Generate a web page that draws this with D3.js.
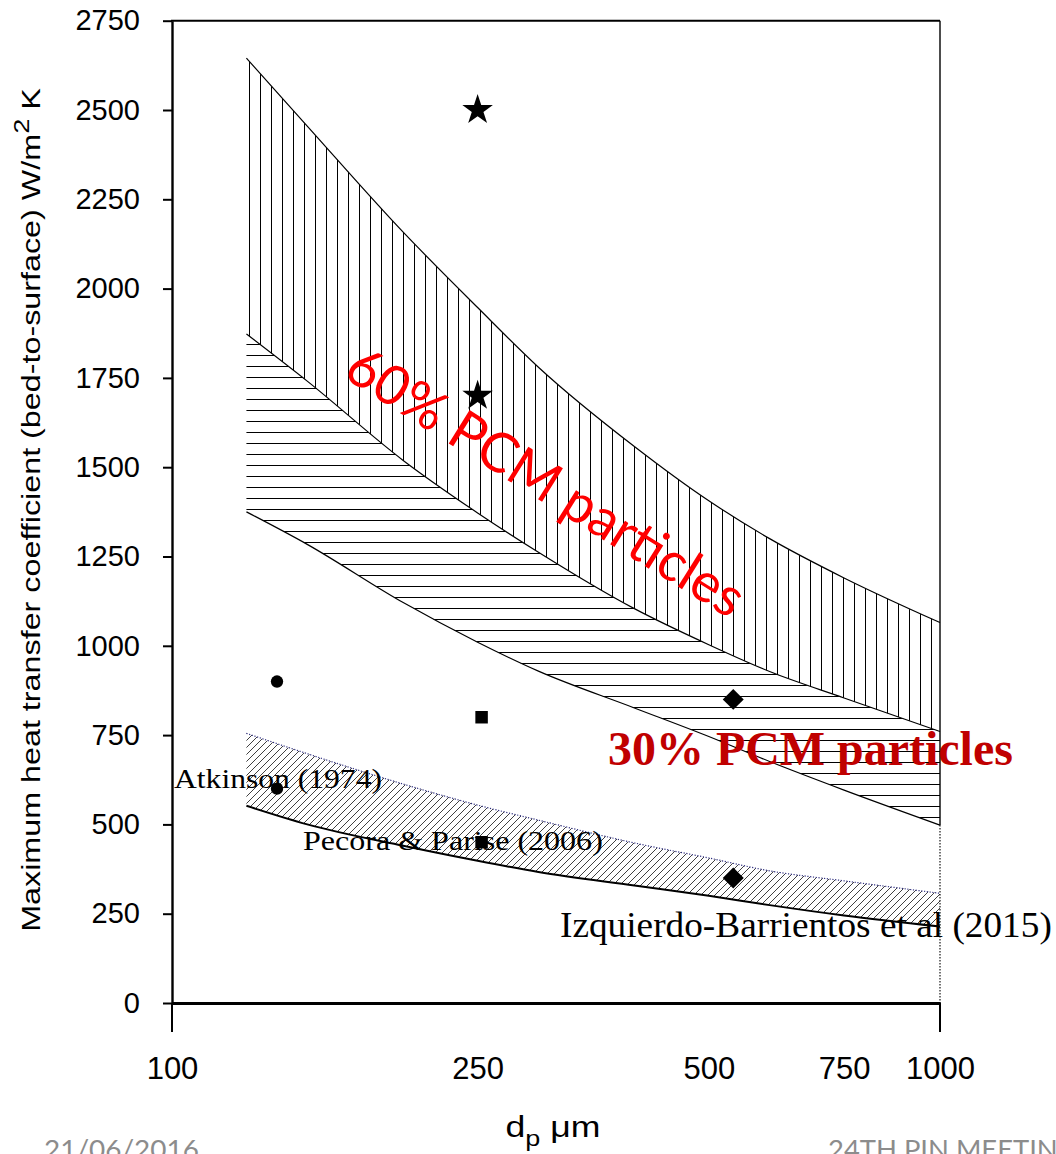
<!DOCTYPE html>
<html>
<head>
<meta charset="utf-8">
<title></title>
<style>
  body { margin: 0; background: #fff; }
  svg { display: block; }
</style>
</head>
<body>
<div id="chart"></div>
<script src="https://d3js.org/d3.v7.min.js"></script>
<script>
const dp = [125, 150, 200, 250, 300, 400, 500, 600, 750, 1000]
// 60% PCM band (vertical hatch): top edge, bottom edge (= top of 30% band)
const pcm60Upper = [2645, 2455, 2158, 1947, 1780, 1558, 1406, 1300, 1190, 1065]
const pcm60Lower = [1873, 1741, 1519, 1372, 1262, 1104, 1003, 928, 854, 760]
// 30% PCM band (horizontal hatch): bottom edge
const pcm30Lower = [1375, 1284, 1121, 1010, 929, 826, 746, 676, 596, 498]
// literature band (diagonal hatch)
const litUpper = [755, 698, 613, 554, 512, 448, 406, 370, 342, 307]
const litLower = [552, 500, 440, 398, 367, 329, 300, 274, 245, 214]

// measured points [dp, h]
const starPts = [[250, 2500], [250, 1700]]
const atkinsonPts = [[137, 900], [137, 600]]
const pecoraPts = [[253, 800], [253, 450]]
const izquierdoPts = [[538, 850], [538, 350]]

const xTicks = [100, 250, 500, 750, 1000]
const xMajor = [100, 1000]
const yTicks = [0, 250, 500, 750, 1000, 1250, 1500, 1750, 2000, 2250, 2500, 2750]

const W = 1056, H = 1154
const svg = d3.select("#chart").append("svg").attr("width", W).attr("height", H)
svg.append("rect").attr("width", W).attr("height", H).attr("fill", "#fff")

const x = d3.scaleLog().domain([100, 1000]).range([172, 940])
const y = d3.scaleLinear().domain([0, 2750]).range([1003, 20.7])

// hatch patterns
const defs = svg.append("defs")
defs.append("pattern").attr("id", "vert").attr("patternUnits", "userSpaceOnUse")
  .attr("width", 11).attr("height", 10)
  .append("line").attr("x1", 7.5).attr("x2", 7.5).attr("y1", 0).attr("y2", 10)
  .attr("stroke", "#000").attr("stroke-width", 1).attr("shape-rendering", "crispEdges")
defs.append("pattern").attr("id", "horiz").attr("patternUnits", "userSpaceOnUse")
  .attr("width", 10).attr("height", 11)
  .append("line").attr("y1", 3.5).attr("y2", 3.5).attr("x1", 0).attr("x2", 10)
  .attr("stroke", "#000").attr("stroke-width", 1).attr("shape-rendering", "crispEdges")
defs.append("pattern").attr("id", "diag").attr("patternUnits", "userSpaceOnUse")
  .attr("width", 7).attr("height", 7)
  .append("path").attr("d", "M-1,1L1,-1M0,7L7,0M6,8L8,6")
  .attr("stroke", "#000").attr("stroke-width", 0.75)

const rows = (a, b) => dp.map((d, i) => ({ d: d, hi: a[i], lo: b[i] }))
const area = d3.area().x(d => x(d.d)).y0(d => y(d.lo)).y1(d => y(d.hi)).curve(d3.curveMonotoneX)
const line = vals => d3.line().x((d, i) => x(dp[i])).y(d => y(d)).curve(d3.curveMonotoneX)(vals)

const plot = svg.append("g")
plot.append("path").attr("d", area(rows(pcm60Upper, pcm60Lower))).attr("fill", "url(#vert)")
plot.append("path").attr("d", area(rows(pcm60Lower, pcm30Lower))).attr("fill", "url(#horiz)")
plot.append("path").attr("d", area(rows(litUpper, litLower))).attr("fill", "url(#diag)")

;[pcm60Upper, pcm60Lower, pcm30Lower].forEach(v => {
  plot.append("path").attr("d", line(v)).attr("fill", "none")
    .attr("stroke", "#000").attr("stroke-width", 1.2)
})
plot.append("path").attr("d", line(litUpper)).attr("fill", "none")
  .attr("stroke", "#303080").attr("stroke-width", 1.2).attr("stroke-dasharray", "1.2,1.6")
plot.append("path").attr("d", line(litLower)).attr("fill", "none")
  .attr("stroke", "#000").attr("stroke-width", 2)

// frame: top and right
svg.append("line").attr("x1", 171).attr("x2", 940).attr("y1", y(2750)).attr("y2", y(2750))
  .attr("stroke", "#000").attr("stroke-width", 2)
svg.append("line").attr("x1", 940).attr("x2", 940).attr("y1", y(2750)).attr("y2", y(pcm30Lower[pcm30Lower.length - 1]))
  .attr("stroke", "#000").attr("stroke-width", 1.4)
svg.append("line").attr("x1", 940).attr("x2", 940).attr("y1", y(pcm30Lower[pcm30Lower.length - 1])).attr("y2", y(0))
  .attr("stroke", "#000").attr("stroke-width", 1.1).attr("stroke-dasharray", "1.5,1.5")

// y axis
const yAxis = svg.append("g").attr("transform", "translate(172,0)")
  .call(d3.axisLeft(y).tickValues(yTicks).tickSize(9).tickSizeOuter(0).tickPadding(23)
    .tickFormat(d3.format("d")))
yAxis.select(".domain").attr("stroke-width", 2.4)
yAxis.selectAll(".tick line").attr("stroke-width", 2)
yAxis.selectAll(".tick text").attr("font-family", "Liberation Sans, Arial, sans-serif")
  .attr("font-size", 29).attr("fill", "#000")

// x axis (log): thick baseline, major ticks only at decades
const xAxis = svg.append("g").attr("transform", "translate(0,1003)")
  .call(d3.axisBottom(x).tickValues(xTicks).tickSize(0).tickSizeOuter(0).tickPadding(54)
    .tickFormat(d3.format("d")))
xAxis.select(".domain").attr("stroke-width", 3)
xAxis.selectAll(".tick text").attr("font-family", "Liberation Sans, Arial, sans-serif")
  .attr("font-size", 31).attr("fill", "#000")
xAxis.selectAll(".major").data(xMajor).enter().append("line")
  .attr("x1", d => x(d)).attr("x2", d => x(d)).attr("y1", 0).attr("y2", 29)
  .attr("stroke", "#000").attr("stroke-width", 2)

// markers
const sym = (type, size) => d3.symbol().type(type).size(size)()
const mark = (pts, type, size, rot) => plot.selectAll(null).data(pts).enter().append("path")
  .attr("d", sym(type, size)).attr("fill", "#000")
  .attr("transform", d => `translate(${x(d[0])},${y(d[1])}) rotate(${rot})`)
mark(starPts, d3.symbolStar, 290, 0)
mark(atkinsonPts, d3.symbolCircle, 120, 0)
mark(pecoraPts, d3.symbolSquare, 156, 0)
mark(izquierdoPts, d3.symbolSquare, 220, 45)

// text helper: place, then stretch horizontally to the measured width
function label(txt, px, py, width, opts) {
  const t = svg.append("text").attr("font-family", opts.font).attr("font-size", opts.size)
    .attr("fill", opts.fill || "#000").attr("font-weight", opts.weight || "normal")
    .attr("text-anchor", opts.anchor || "start")
  if (typeof txt === "string") t.text(txt)
  else txt(t)
  const s = width / t.node().getComputedTextLength()
  t.attr("transform", `translate(${px},${py}) rotate(${opts.rot || 0}) scale(${s},1)`)
  if (opts.baseline) t.attr("dominant-baseline", opts.baseline)
  return t
}

const serif = "Liberation Serif, Times New Roman, serif"
label("Atkinson (1974)", 174, 788, 208, { font: serif, size: 28 })
label("Pecora & Parise (2006)", 303, 850, 300, { font: serif, size: 28 })
label("Izquierdo-Barrientos et al (2015)", 560, 937, 492, { font: serif, size: 35 })
label("30% PCM particles", 608, 765, 405, { font: serif, size: 48, weight: "bold", fill: "#C00000" })
label("60% PCM particles", 547, 480, 458, { font: "Lato, Open Sans, sans-serif", size: 55, fill: "#FF0000",
  anchor: "middle", rot: 32, baseline: "central" })

// axis titles
label(t => {
  t.append("tspan").text("Maximum heat transfer coefficient (bed-to-surface) W/m")
  t.append("tspan").attr("font-size", 22).attr("dy", -11).text("2")
  t.append("tspan").attr("dy", 11).text(" K")
}, 40, 510, 844, { font: "Liberation Sans, Arial, sans-serif", size: 26, anchor: "middle", rot: -90 })

label(t => {
  t.append("tspan").text("d")
  t.append("tspan").attr("font-size", 22).attr("dy", 9).text("p")
  t.append("tspan").attr("dy", -9).text(" \u03bcm")
}, 553, 1137, 95, { font: "Liberation Sans, Arial, sans-serif", size: 29, anchor: "middle" })

// slide footer (cut by the frame, as in the slide)
label("21/06/2016", 44, 1159, 155, { font: "Lato, Open Sans, sans-serif", size: 27, fill: "#8c8c8c" })
label("24TH PIN MEETING", 828, 1159, 250, { font: "Lato, Open Sans, sans-serif", size: 27, fill: "#8c8c8c" })
</script>
</body>
</html>
